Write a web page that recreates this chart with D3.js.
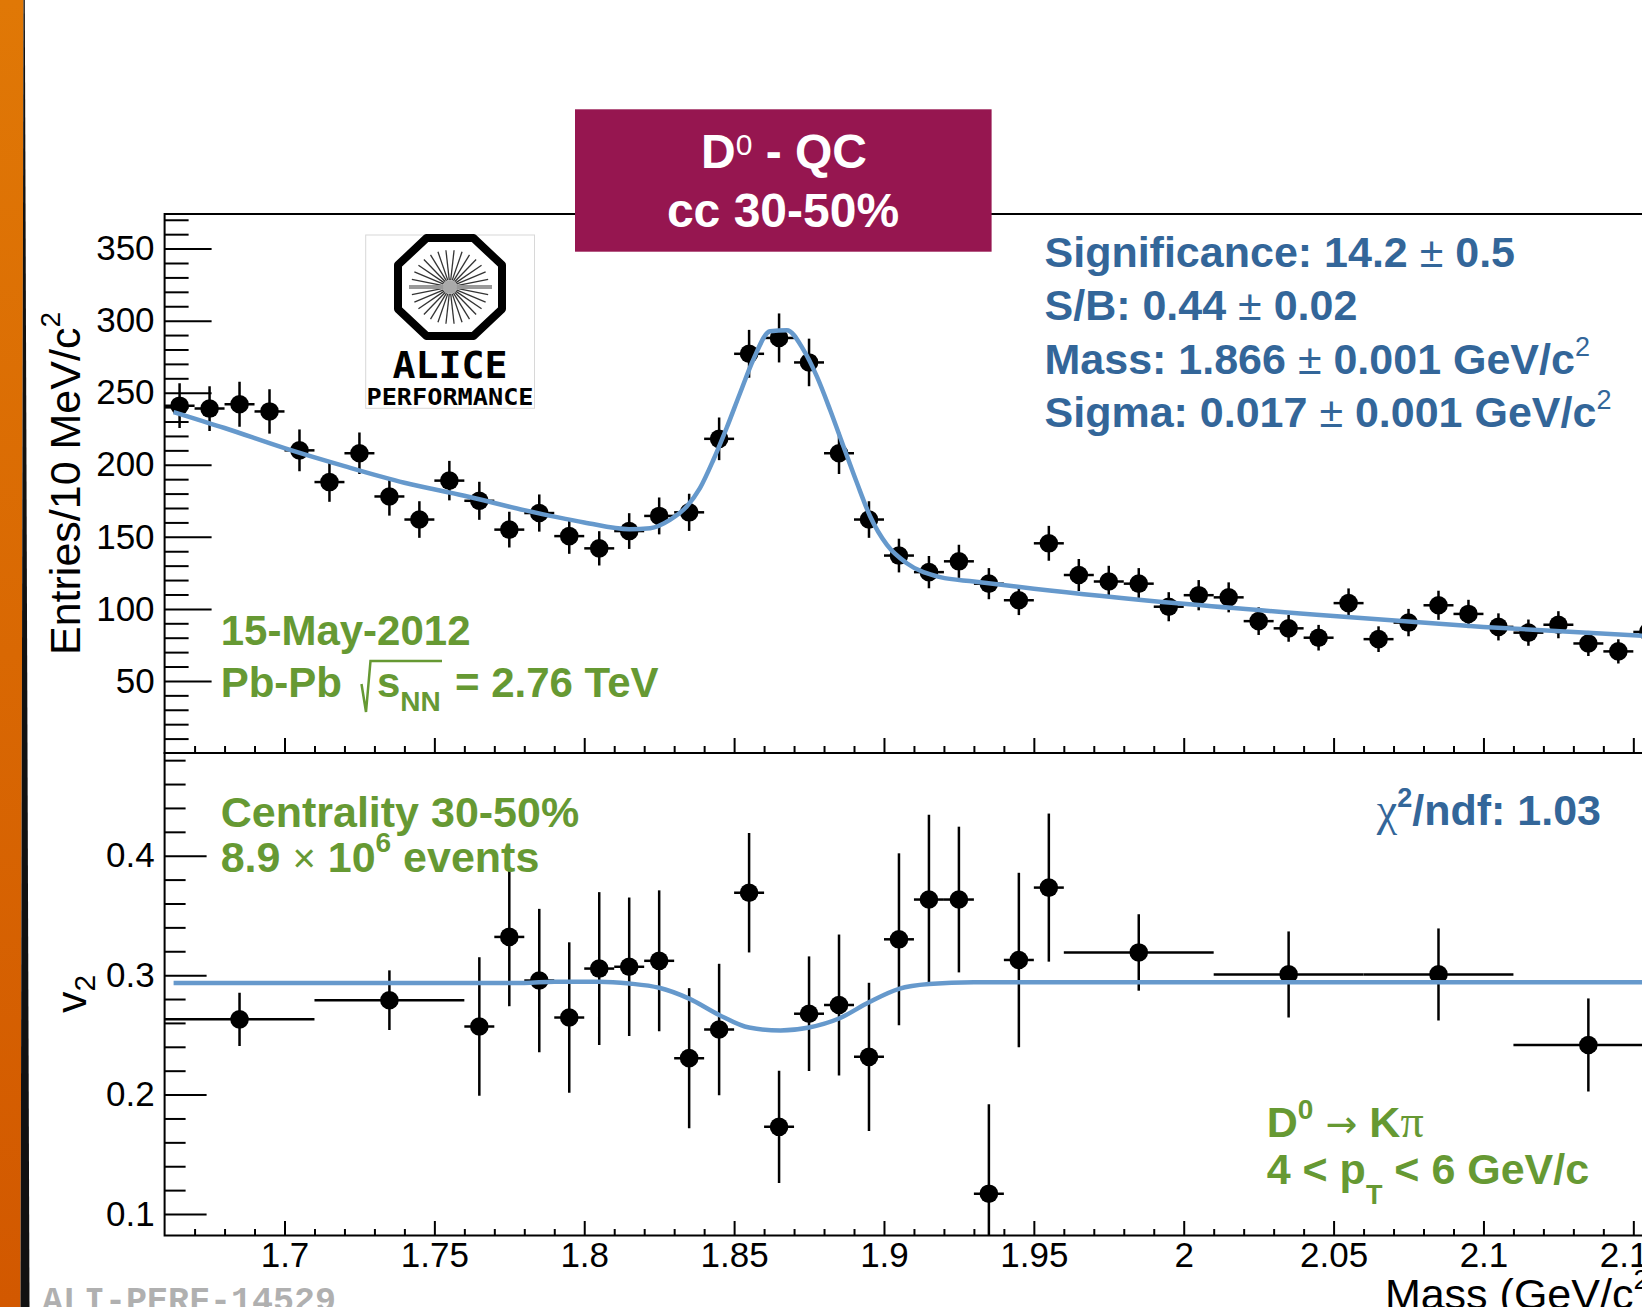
<!DOCTYPE html>
<html>
<head>
<meta charset="utf-8">
<script src="https://cdn.jsdelivr.net/npm/d3@7"></script>
<style>
html, body { margin: 0; padding: 0; background: #fff; overflow: hidden; }
svg { display: block; }
</style>
</head>
<body>
<svg id="chart"></svg>
<script>
const W = 1642, H = 1307;

// upper panel: D0 invariant-mass spectrum, 10 MeV bins
const massBins = [1.665, 1.675, 1.685, 1.695, 1.705, 1.715, 1.725, 1.735, 1.745, 1.755,
                  1.765, 1.775, 1.785, 1.795, 1.805, 1.815, 1.825, 1.835, 1.845, 1.855,
                  1.865, 1.875, 1.885, 1.895, 1.905, 1.915, 1.925, 1.935, 1.945, 1.955,
                  1.965, 1.975, 1.985, 1.995, 2.005, 2.015, 2.025, 2.035, 2.045, 2.055,
                  2.065, 2.075, 2.085, 2.095, 2.105, 2.115, 2.125, 2.135, 2.145, 2.155];
const entries = [241, 239, 242, 237, 210, 188, 208, 178, 162, 189,
                 175, 155, 166.5, 150.5, 142, 154, 164.5, 167, 218, 277,
                 288, 271, 208, 162, 137, 125.5, 133, 117.5, 106, 145.5,
                 123.5, 119, 117.5, 101.5, 109.5, 108, 91.5, 86.5, 80, 104,
                 79, 90.5, 102.5, 96.5, 87.5, 83.5, 89, 76, 70.5, 84];
const entriesErr = [15.5, 15.5, 15.6, 15.4, 14.5, 13.7, 14.4, 13.3, 12.7, 13.7,
                    13.2, 12.4, 12.9, 12.3, 11.9, 12.4, 12.8, 12.9, 14.8, 16.6,
                    17.0, 16.5, 14.4, 12.7, 11.7, 11.2, 11.5, 10.8, 10.3, 12.1,
                    11.1, 10.9, 10.8, 10.1, 10.5, 10.4, 9.6, 9.3, 8.9, 10.2,
                    8.9, 9.5, 10.1, 9.8, 9.4, 9.1, 9.4, 8.7, 8.4, 9.2];
const binHalf = 0.005;

// fit curve (gaussian + background)
const fitMass = [1.663, 1.68, 1.70, 1.72, 1.74, 1.76, 1.78, 1.80, 1.815, 1.822,
                 1.8286, 1.8342, 1.8386, 1.8431, 1.8475, 1.852, 1.8564, 1.862, 1.8676, 1.8731,
                 1.8776, 1.882, 1.8865, 1.891, 1.8954, 1.901, 1.9076, 1.9188, 1.93, 1.95,
                 2.0, 2.05, 2.1, 2.16];
const fitEntries = [236.6, 225.5, 211.5, 199, 187.5, 178.5, 168.5, 160, 155.3, 156,
                    161.8, 171.1, 183.8, 203.5, 225.5, 249.8, 272.9, 292.6, 293.3, 279.9,
                    261.3, 238.2, 212.7, 187.3, 164.1, 144.4, 131.7, 122, 119, 114,
                    103.5, 95, 87.5, 80.5];

// lower panel: v2 vs mass
const v2Mass = [1.685, 1.735, 1.765, 1.775, 1.785, 1.795, 1.805, 1.815, 1.825, 1.835,
                1.845, 1.855, 1.865, 1.875, 1.885, 1.895, 1.905, 1.915, 1.925, 1.935,
                1.945, 1.955, 1.985, 2.035, 2.085, 2.135];
const v2MassHalf = [0.025, 0.025, 0.005, 0.005, 0.005, 0.005, 0.005, 0.005, 0.005, 0.005,
                    0.005, 0.005, 0.005, 0.005, 0.005, 0.005, 0.005, 0.005, 0.005, 0.005,
                    0.005, 0.005, 0.025, 0.025, 0.025, 0.025];
const v2Values = [0.263, 0.279, 0.257, 0.332, 0.2955, 0.2645, 0.3055, 0.307, 0.312, 0.2305,
                  0.2545, 0.369, 0.173, 0.2677, 0.275, 0.2316, 0.330, 0.3633, 0.3633, 0.117,
                  0.3127, 0.3733, 0.319, 0.3006, 0.3006, 0.2415];
const v2Err = [0.0223, 0.025, 0.058, 0.058, 0.060, 0.063, 0.064, 0.058, 0.059, 0.0586,
               0.055, 0.050, 0.047, 0.048, 0.059, 0.062, 0.072, 0.071, 0.061, 0.075,
               0.073, 0.062, 0.032, 0.036, 0.0385, 0.039];

const v2FitMass = [1.663, 1.78, 1.79, 1.805, 1.815, 1.825, 1.835, 1.845, 1.855, 1.8655,
                   1.875, 1.885, 1.895, 1.905, 1.915, 1.93, 2.16];
const v2FitValues = [0.2934, 0.2935, 0.2945, 0.2945, 0.293, 0.2894, 0.2803, 0.2667, 0.2561, 0.2537,
                     0.2562, 0.2637, 0.2773, 0.2885, 0.2925, 0.294, 0.294];

// axes
const massTicks = [1.7, 1.75, 1.8, 1.85, 1.9, 1.95, 2, 2.05, 2.1, 2.15];
const entryTicks = [50, 100, 150, 200, 250, 300, 350];
const v2Ticks = [0.1, 0.2, 0.3, 0.4];

const FONT = "'Liberation Sans', Arial, Helvetica, sans-serif";
const SERIF = "'Liberation Serif', 'Times New Roman', serif";
const BLUE = "#336699", GREEN = "#669933", CURVE = "#6699cc", BOX = "#961650";

const left = 164.6, right = 1663.3;
const upTop = 214, upBottom = 753, loTop = 753, loBottom = 1235.5;

const x = d3.scaleLinear().domain([1.66, 2.16]).range([left, right]);
const yUp = d3.scaleLinear().domain([0, 374]).range([upBottom, upTop]);
const yLo = d3.scaleLinear().domain([0.082, 0.486]).range([loBottom, loTop]);

const svg = d3.select("#chart").attr("width", W).attr("height", H)
    .style("font-family", FONT);
const defs = svg.append("defs");

svg.append("rect").attr("width", W).attr("height", H).attr("fill", "#fff");

// slide edge on the left
const grad = defs.append("linearGradient").attr("id", "edge")
    .attr("x1", 0).attr("y1", 0).attr("x2", 0).attr("y2", 1);
grad.append("stop").attr("offset", "0%").attr("stop-color", "#e07806");
grad.append("stop").attr("offset", "100%").attr("stop-color", "#d25800");
svg.append("polygon").attr("points", "0,0 23.5,0 20.5,1307 0,1307").attr("fill", "url(#edge)");
svg.append("polygon").attr("points", "23.5,0 24.8,0 29.5,1307 20.5,1307").attr("fill", "#111");

defs.append("clipPath").attr("id", "clipUp").append("rect")
    .attr("x", left).attr("y", upTop).attr("width", right - left).attr("height", upBottom - upTop);
defs.append("clipPath").attr("id", "clipLo").append("rect")
    .attr("x", left).attr("y", loTop).attr("width", right - left).attr("height", loBottom - loTop);

// frames
[[upTop, upBottom], [loTop, loBottom]].forEach(([t, b]) => {
    svg.append("rect").attr("x", left).attr("y", t)
        .attr("width", right - left).attr("height", b - t)
        .attr("fill", "none").attr("stroke", "#000").attr("stroke-width", 2);
});

function styleAxis(g) {
    g.select(".domain").remove();
    g.selectAll("line").attr("stroke", "#000").attr("stroke-width", 2);
    g.selectAll("text").attr("fill", "#000").style("font-size", "35px").style("font-family", FONT);
    g.attr("font-size", null).attr("font-family", null);
}

const minorMass = d3.range(167, 216).filter(v => v % 5 !== 0).map(v => v / 100);
const minorEntries = d3.range(10, 371, 10).filter(v => v % 50 !== 0);
const minorV2 = d3.range(9, 49).filter(v => v % 2 === 0 && v % 10 !== 0).map(v => v / 100);

// upper axes
svg.append("g").attr("transform", `translate(${left},0)`)
    .call(d3.axisLeft(yUp).tickValues(entryTicks).tickSizeInner(-47).tickSizeOuter(0).tickPadding(10))
    .call(styleAxis);
svg.append("g").attr("transform", `translate(${left},0)`)
    .call(d3.axisLeft(yUp).tickValues(minorEntries).tickSizeInner(-24).tickSizeOuter(0).tickFormat(""))
    .call(styleAxis);
svg.append("g").attr("transform", `translate(0,${upBottom})`)
    .call(d3.axisBottom(x).tickValues(massTicks).tickSizeInner(-15).tickSizeOuter(0).tickFormat(""))
    .call(styleAxis);
svg.append("g").attr("transform", `translate(0,${upBottom})`)
    .call(d3.axisBottom(x).tickValues(minorMass).tickSizeInner(-7).tickSizeOuter(0).tickFormat(""))
    .call(styleAxis);

// lower axes
svg.append("g").attr("transform", `translate(${left},0)`)
    .call(d3.axisLeft(yLo).tickValues(v2Ticks).tickSizeInner(-42).tickSizeOuter(0).tickPadding(10)
        .tickFormat(d3.format(".1f")))
    .call(styleAxis);
svg.append("g").attr("transform", `translate(${left},0)`)
    .call(d3.axisLeft(yLo).tickValues(minorV2).tickSizeInner(-21).tickSizeOuter(0).tickFormat(""))
    .call(styleAxis);
svg.append("g").attr("transform", `translate(0,${loBottom})`)
    .call(d3.axisBottom(x).tickValues(massTicks).tickSizeInner(-14.5).tickSizeOuter(0).tickPadding(7)
        .tickFormat(d => String(d)))
    .call(styleAxis);
svg.append("g").attr("transform", `translate(0,${loBottom})`)
    .call(d3.axisBottom(x).tickValues(minorMass).tickSizeInner(-6.5).tickSizeOuter(0).tickFormat(""))
    .call(styleAxis);

// axis titles
svg.append("text").attr("transform", `translate(80,483.5) rotate(-90)`)
    .attr("text-anchor", "middle").style("font-size", "43px")
    .call(t => {
        t.append("tspan").text("Entries/10 MeV/c");
        t.append("tspan").text("2").attr("dy", -20).style("font-size", "28px");
    });
svg.append("text").attr("transform", `translate(86,994) rotate(-90)`)
    .attr("text-anchor", "middle").style("font-size", "43px")
    .call(t => {
        t.append("tspan").text("v");
        t.append("tspan").text("2").attr("dy", 9).style("font-size", "30px");
    });
svg.append("text").attr("x", right).attr("y", 1309)
    .attr("text-anchor", "end").style("font-size", "43px")
    .call(t => {
        t.append("tspan").text("Mass (GeV/c");
        t.append("tspan").text("2").attr("dy", -20).style("font-size", "28px");
        t.append("tspan").text(")").attr("dy", 20);
    });

// data: upper panel
const up = svg.append("g").attr("clip-path", "url(#clipUp)");
const upPts = massBins.map((m, i) => ({ m, v: entries[i], e: entriesErr[i] }));
up.selectAll(".ey").data(upPts).join("line")
    .attr("x1", d => x(d.m)).attr("x2", d => x(d.m))
    .attr("y1", d => yUp(d.v - d.e)).attr("y2", d => yUp(d.v + d.e))
    .attr("stroke", "#000").attr("stroke-width", 2.5);
up.selectAll(".ex").data(upPts).join("line")
    .attr("x1", d => x(d.m - binHalf)).attr("x2", d => x(d.m + binHalf))
    .attr("y1", d => yUp(d.v)).attr("y2", d => yUp(d.v))
    .attr("stroke", "#000").attr("stroke-width", 2.5);
up.selectAll("circle").data(upPts).join("circle")
    .attr("cx", d => x(d.m)).attr("cy", d => yUp(d.v)).attr("r", 9.3).attr("fill", "#000");
up.append("path")
    .datum(fitMass.map((m, i) => [m, fitEntries[i]]))
    .attr("d", d3.line().x(d => x(d[0])).y(d => yUp(d[1])).curve(d3.curveMonotoneX))
    .attr("fill", "none").attr("stroke", CURVE).attr("stroke-width", 4.5);

// data: lower panel
const lo = svg.append("g").attr("clip-path", "url(#clipLo)");
const loPts = v2Mass.map((m, i) => ({ m, h: v2MassHalf[i], v: v2Values[i], e: v2Err[i] }));
lo.selectAll(".ey").data(loPts).join("line")
    .attr("x1", d => x(d.m)).attr("x2", d => x(d.m))
    .attr("y1", d => yLo(d.v - d.e)).attr("y2", d => yLo(d.v + d.e))
    .attr("stroke", "#000").attr("stroke-width", 2.5);
lo.selectAll(".ex").data(loPts).join("line")
    .attr("x1", d => x(d.m - d.h)).attr("x2", d => x(d.m + d.h))
    .attr("y1", d => yLo(d.v)).attr("y2", d => yLo(d.v))
    .attr("stroke", "#000").attr("stroke-width", 2.5);
lo.selectAll("circle").data(loPts).join("circle")
    .attr("cx", d => x(d.m)).attr("cy", d => yLo(d.v)).attr("r", 9.3).attr("fill", "#000");
lo.append("path")
    .datum(v2FitMass.map((m, i) => [m, v2FitValues[i]]))
    .attr("d", d3.line().x(d => x(d[0])).y(d => yLo(d[1])).curve(d3.curveMonotoneX))
    .attr("fill", "none").attr("stroke", CURVE).attr("stroke-width", 4.5);

// rich text helper: parts with optional size / weight / font / vertical offset
function richText(x0, y0, parts, color, size, anchor) {
    const t = svg.append("text").attr("x", x0).attr("y", y0)
        .attr("fill", color).style("font-size", size + "px").style("font-weight", "bold")
        .attr("text-anchor", anchor || "start");
    let shift = 0;
    parts.forEach(p => {
        const ts = t.append("tspan").text(p.t);
        const target = p.dy || 0;
        if (target !== shift) ts.attr("dy", target - shift);
        shift = target;
        if (p.size) ts.style("font-size", p.size + "px");
        if (p.w) ts.style("font-weight", p.w);
        if (p.f) ts.style("font-family", p.f);
    });
    return t;
}

// fit results
richText(1044.5, 266.7, [{ t: "Significance: 14.2 " }, { t: "±", w: "normal" }, { t: " 0.5" }], BLUE, 43);
richText(1044.5, 320, [{ t: "S/B: 0.44 " }, { t: "±", w: "normal" }, { t: " 0.02" }], BLUE, 43);
richText(1044.5, 373.5, [{ t: "Mass: 1.866 " }, { t: "±", w: "normal" }, { t: " 0.001 GeV/c" },
    { t: "2", size: 27, w: "normal", dy: -18 }], BLUE, 43);
richText(1044.5, 426.5, [{ t: "Sigma: 0.017 " }, { t: "±", w: "normal" }, { t: " 0.001 GeV/c" },
    { t: "2", size: 27, w: "normal", dy: -18 }], BLUE, 43);
richText(1376.8, 825, [{ t: "χ", w: "normal", f: SERIF, size: 46 }, { t: "2", size: 27, dy: -18 },
    { t: "/ndf: 1.03" }], BLUE, 43);

// green labels
richText(220.7, 645, [{ t: "15-May-2012" }], GREEN, 42);
richText(220.7, 697, [{ t: "Pb-Pb" }], GREEN, 42);
svg.append("path").attr("d", "M361.5,684 L366,712 L370.5,661 L442,661")
    .attr("fill", "none").attr("stroke", GREEN).attr("stroke-width", 2.5);
richText(377, 697, [{ t: "s" }, { t: "NN", size: 28, dy: 14 }], GREEN, 42);
richText(455, 697, [{ t: "= 2.76 TeV" }], GREEN, 42);
richText(220.7, 826.7, [{ t: "Centrality 30-50%" }], GREEN, 43);
richText(220.7, 871.7, [{ t: "8.9 " }, { t: "×", w: "normal", size: 40 }, { t: " 10" },
    { t: "6", size: 28, dy: -20 }, { t: " events" }], GREEN, 43);
richText(1266.7, 1137, [{ t: "D" }, { t: "0", size: 28, dy: -18 },
    { t: " → ", w: "normal", f: "'DejaVu Sans', sans-serif", size: 38 },
    { t: "K" }, { t: "π", w: "normal", f: SERIF, size: 46 }], GREEN, 43);
richText(1266.7, 1184, [{ t: "4 < p" }, { t: "T", size: 27, dy: 20 }, { t: " < 6 GeV/c" }], GREEN, 43);

// ALICE performance logo
const logo = svg.append("g");
logo.append("rect").attr("x", 365.7).attr("y", 235).attr("width", 168.8).attr("height", 173.3)
    .attr("fill", "#fff").attr("stroke", "#d8d8d8").attr("stroke-width", 1);
const cx = 450, cy = 287, a = 52, b = 49, c = 0.45;
logo.append("polygon")
    .attr("points", [[cx - a * c, cy - b], [cx + a * c, cy - b], [cx + a, cy - b * c], [cx + a, cy + b * c],
        [cx + a * c, cy + b], [cx - a * c, cy + b], [cx - a, cy + b * c], [cx - a, cy - b * c]]
        .map(p => p.join(",")).join(" "))
    .attr("fill", "#fff").attr("stroke", "#000").attr("stroke-width", 8).attr("stroke-linejoin", "round");
logo.selectAll(".spoke").data(d3.range(0, 360, 12)).join("line")
    .attr("x1", d => cx + 7 * Math.cos(d * Math.PI / 180)).attr("y1", d => cy + 7 * Math.sin(d * Math.PI / 180))
    .attr("x2", d => cx + 39 * Math.cos(d * Math.PI / 180)).attr("y2", d => cy + 37 * Math.sin(d * Math.PI / 180))
    .attr("stroke", "#333").attr("stroke-width", 1.3);
logo.append("line").attr("x1", 409).attr("x2", 492).attr("y1", cy).attr("y2", cy)
    .attr("stroke", "#999").attr("stroke-width", 4);
logo.append("circle").attr("cx", cx).attr("cy", cy).attr("r", 7).attr("fill", "#aaa");
logo.append("text").attr("x", 392.5).attr("y", 378.3).text("ALICE")
    .style("font-family", "'DejaVu Sans Mono', monospace").style("font-weight", "bold").style("font-size", "38px")
    .attr("textLength", 115).attr("lengthAdjust", "spacingAndGlyphs").attr("fill", "#000");
logo.append("text").attr("x", 366.5).attr("y", 405).text("PERFORMANCE")
    .style("font-family", "'DejaVu Sans Mono', monospace").style("font-weight", "bold").style("font-size", "23px")
    .attr("textLength", 167).attr("lengthAdjust", "spacingAndGlyphs").attr("fill", "#000");

// title box
svg.append("rect").attr("x", 575).attr("y", 109.3).attr("width", 416.6).attr("height", 142.4).attr("fill", BOX);
richText(784, 168.3, [{ t: "D" }, { t: "0", size: 30, w: "normal", dy: -13 }, { t: " - QC" }], "#fff", 48, "middle");
richText(783, 226.7, [{ t: "cc 30-50%" }], "#fff", 48, "middle");

// preliminary figure id
svg.append("text").attr("x", 42).attr("y", 1311).text("ALI-PERF-14529")
    .style("font-family", "'Liberation Mono', 'Courier New', monospace").style("font-weight", "bold")
    .style("font-size", "35px").attr("fill", "#b0b0b0");
</script>
</body>
</html>
